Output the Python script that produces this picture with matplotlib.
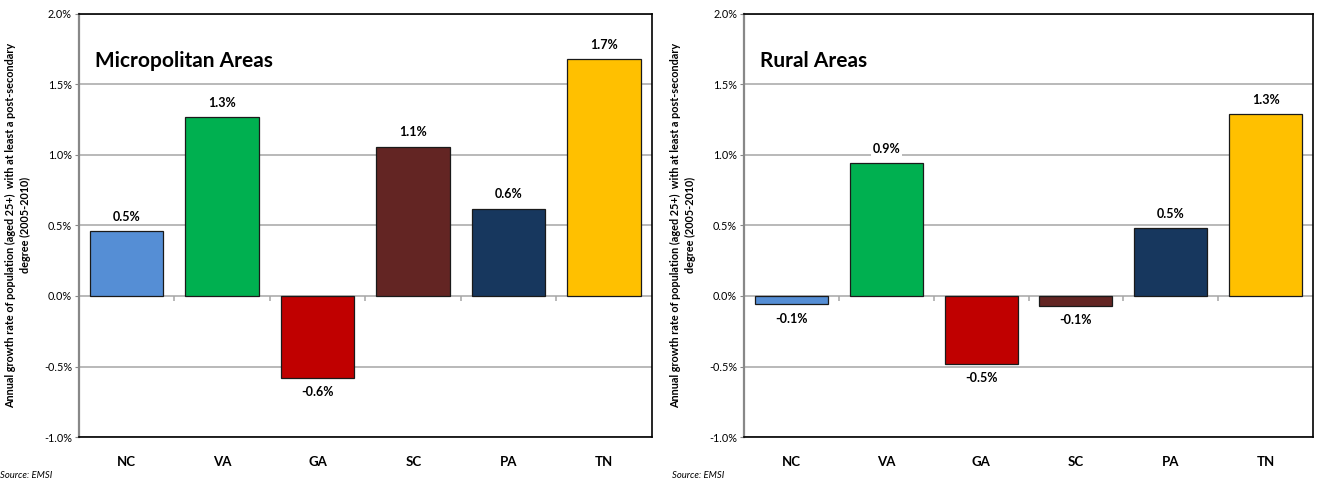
import numpy as np
import matplotlib
matplotlib.use('Agg')
import matplotlib.pyplot as plt
from matplotlib.ticker import FuncFormatter

plt.rcParams['font.family'] = ['Lato', 'DejaVu Sans']

states = ['NC', 'VA', 'GA', 'SC', 'PA', 'TN']
micro_growth = [0.46, 1.27, -0.58, 1.06, 0.62, 1.68]   # % per year
rural_growth = [-0.06, 0.94, -0.48, -0.07, 0.48, 1.29]  # % per year
bar_colors = ['#558ED5', '#00B050', '#C00000', '#632523', '#17375E', '#FFC000']
panel_titles = ['Micropolitan Areas', 'Rural Areas']
y_ticks = [-1.0, -0.5, 0.0, 0.5, 1.0, 1.5, 2.0]
ylabel = ('Annual growth rate of population (aged 25+)  with at least a post-secondary\n'
          'degree (2005-2010)')

fig = plt.figure(figsize=(13.23, 4.84), dpi=100)
ax1 = fig.add_axes([0.0597, 0.0971, 0.4331, 0.874])
ax2 = fig.add_axes([0.5624, 0.0971, 0.4301, 0.874])


def draw_panel(ax, vals, title):
    x = np.arange(len(states))
    ax.set_axisbelow(True)
    ax.grid(axis='y', color='#A6A6A6', linewidth=1.1)
    ax.bar(x, vals, width=0.77, color=bar_colors, edgecolor='#1a1a1a', linewidth=0.9, zorder=3)

    for xi, v in zip(x, vals):
        if v >= 0:
            off, va = 6, 'bottom'
        else:
            off, va = -6, 'top'
        ax.annotate('%.1f%%' % v, (xi, v), xytext=(0, off), textcoords='offset points',
                    ha='center', va=va, fontsize=9, fontweight='bold', zorder=4,
                    bbox=dict(facecolor='white', edgecolor='none', pad=1.0))

    # little ticks on the zero line between categories
    ax.vlines(x[:-1] + 0.5, -0.035, 0, color='#A6A6A6', linewidth=1.1, zorder=2)

    ax.set_xlim(-0.5, len(states) - 0.5)
    ax.set_ylim(-1.0, 2.0)
    ax.set_yticks(y_ticks)
    ax.yaxis.set_major_formatter(FuncFormatter(lambda v, p: '%.1f%%' % v))
    ax.tick_params(axis='y', labelsize=7.8, length=3, color='#888888', pad=2)
    ax.set_xticks(x)
    ax.set_xticklabels(states, fontsize=9.5, fontweight='bold')
    ax.tick_params(axis='x', length=0, pad=14)

    for side in ['top', 'right', 'bottom']:
        ax.spines[side].set_color('black')
        ax.spines[side].set_linewidth(1.2)
    ax.spines['left'].set_color('#888888')
    ax.spines['left'].set_linewidth(1.6)

    ax.text(0.028, 0.889, title, transform=ax.transAxes, ha='left', va='center',
            fontsize=15, fontweight='bold')


draw_panel(ax1, micro_growth, panel_titles[0])
draw_panel(ax2, rural_growth, panel_titles[1])

for xpos in [0.0136, 0.5165]:
    fig.text(xpos, 0.535, ylabel, rotation=90, ha='center', va='center',
             fontsize=7.8, fontweight='bold', linespacing=1.45)

fig.text(0.0, 0.008, 'Source: EMSI', fontsize=6.8, style='italic', ha='left', va='bottom')
fig.text(0.508, 0.008, 'Source: EMSI', fontsize=6.8, style='italic', ha='left', va='bottom')

plt.savefig('out.png', dpi=100)
